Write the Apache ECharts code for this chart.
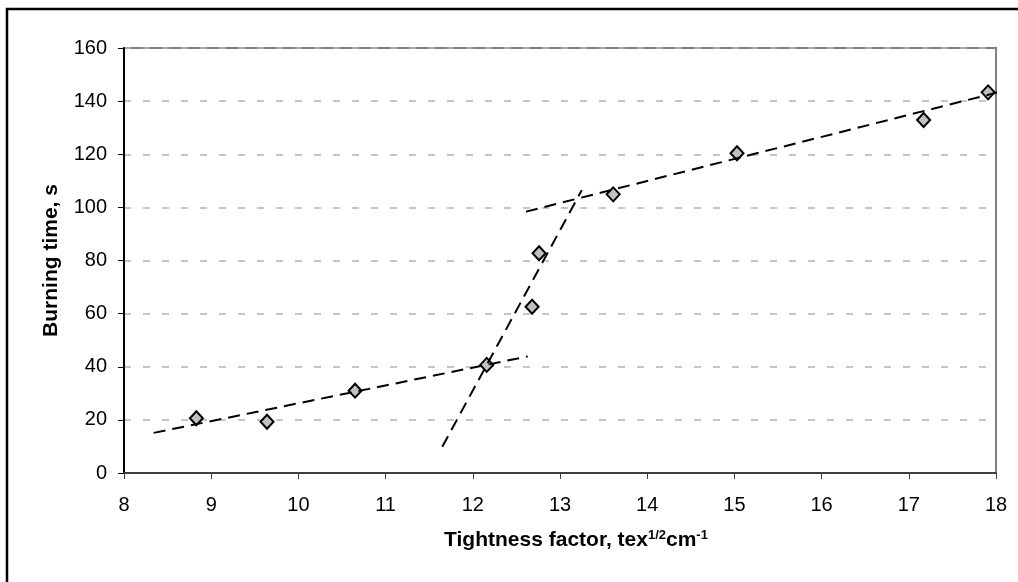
<!DOCTYPE html>
<html>
<head>
<meta charset="utf-8">
<title>Burning time vs tightness factor</title>
<script src="https://cdn.jsdelivr.net/npm/echarts@6/dist/echarts.min.js"></script>
<style>
  html, body { margin: 0; padding: 0; background: #fff; }
  #chart { width: 1018px; height: 582px; }
</style>
</head>
<body>
<div id="chart"></div>
<script>
// measured points
var tightness = [8.83, 9.64, 10.65, 12.16, 12.68, 12.76, 13.61, 15.03, 17.17, 17.91]
var burningTime = [20.6, 19.3, 31.0, 40.7, 62.6, 82.7, 104.9, 120.4, 132.9, 143.3]

// trend lines (start / end)
var trendLowX = [8.34, 12.63]
var trendLowY = [15.1, 43.9]
var trendMidX = [11.65, 13.25]
var trendMidY = [9.9, 106.5]
var trendHighX = [12.61, 18.02]
var trendHighY = [98.4, 143.3]

var xTicks = [8, 18, 1]
var yTicks = [0, 160, 20]

function pairs (xs, ys) {
  return xs.map(function (x, i) { return [x, ys[i]] })
}

var font = "'Liberation Sans', Arial, sans-serif"

function trendSeries (xs, ys) {
  return {
    type: 'line',
    data: pairs(xs, ys),
    symbol: 'none',
    silent: true,
    z: 4,
    lineStyle: { color: '#000', width: 2, type: [12, 7] }
  }
}

var chart = echarts.init(document.getElementById('chart'))

var option = {
  animation: false,
  backgroundColor: '#fff',
  grid: {
    left: 124,
    right: 22,
    top: 48,
    bottom: 109,
    show: true,
    borderColor: '#808080',
    borderWidth: 2
  },
  graphic: [{
    type: 'rect',
    shape: { x: 7, y: 9, width: 1200, height: 800 },
    style: { fill: 'none', stroke: '#000', lineWidth: 2.5 },
    silent: true
  }],
  xAxis: {
    type: 'value',
    min: xTicks[0],
    max: xTicks[1],
    interval: xTicks[2],
    name: 'Tightness factor, tex{sup|1/2}cm{sup|-1}',
    nameLocation: 'middle',
    nameGap: 56,
    nameTextStyle: {
      fontFamily: font,
      fontSize: 21,
      fontWeight: 'bold',
      color: '#000',
      padding: [0, 0, 0, 32],
      rich: {
        sup: { fontFamily: font, fontSize: 13, fontWeight: 'bold', color: '#000', verticalAlign: 'bottom', padding: [0, 0, 9, 0] }
      }
    },
    axisLine: { onZero: false, lineStyle: { color: '#404040', width: 2 } },
    axisTick: { show: true, length: 6, lineStyle: { color: '#404040', width: 1 } },
    axisLabel: { margin: 22, fontFamily: font, fontSize: 20, color: '#000' },
    splitLine: { show: false }
  },
  yAxis: {
    type: 'value',
    min: yTicks[0],
    max: yTicks[1],
    interval: yTicks[2],
    name: 'Burning time, s',
    nameLocation: 'middle',
    nameRotate: 90,
    nameGap: 62,
    nameTextStyle: { fontFamily: font, fontSize: 21, fontWeight: 'bold', color: '#000' },
    axisLine: { show: true, onZero: false, lineStyle: { color: '#000', width: 2 } },
    axisTick: { show: true, length: 6, lineStyle: { color: '#000', width: 1 } },
    axisLabel: { margin: 17, fontFamily: font, fontSize: 20, color: '#000' },
    splitLine: { show: true, lineStyle: { color: '#b4b4b4', width: 1.5, type: [7, 12] } }
  },
  series: [{
    type: 'scatter',
    data: pairs(tightness, burningTime),
    symbol: 'diamond',
    symbolSize: [13, 14],
    z: 3,
    itemStyle: { color: '#c0c0c0', borderColor: '#000', borderWidth: 2, opacity: 1 }
  },
  trendSeries(trendLowX, trendLowY),
  trendSeries(trendMidX, trendMidY),
  trendSeries(trendHighX, trendHighY)
  ]
}

chart.setOption(option)
</script>
</body>
</html>
